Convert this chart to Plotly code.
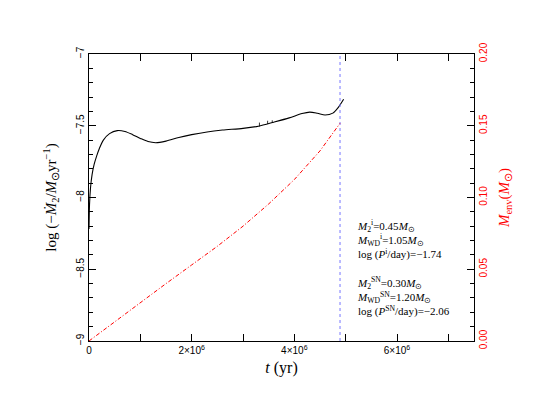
import plotly.graph_objects as go

# accretion rate curve (time in yr, log of -dM2/dt in Msun/yr)
t_mdot = [0.0, 0.01e6, 0.03e6, 0.06e6, 0.1e6, 0.15e6, 0.2e6, 0.28e6, 0.4e6, 0.55e6,
          0.7e6, 0.85e6, 1.0e6, 1.15e6, 1.3e6, 1.5e6, 1.75e6, 2.0e6, 2.3e6, 2.6e6,
          3.0e6, 3.3e6, 3.6e6, 3.9e6, 4.15e6, 4.3e6, 4.45e6, 4.6e6, 4.75e6, 4.85e6, 4.96e6]
log_mdot = [-8.22, -8.05, -7.93, -7.84, -7.77, -7.71, -7.66, -7.6, -7.555, -7.534,
            -7.54, -7.562, -7.588, -7.61, -7.618, -7.607, -7.582, -7.562, -7.543, -7.53,
            -7.518, -7.503, -7.475, -7.445, -7.415, -7.405, -7.413, -7.425, -7.412, -7.375, -7.315]

# small numerical spikes on the rate curve
t_spike = [3.32e6, 3.32e6, None, 3.48e6, 3.48e6, None, 3.57e6, 3.57e6]
y_spike = [-7.505, -7.478, None, -7.488, -7.465, None, -7.478, -7.462]

# envelope mass curve (right axis, Msun)
t_env = [0.0, 0.5e6, 1.0e6, 1.5e6, 2.0e6, 2.5e6, 3.0e6, 3.5e6, 4.0e6, 4.5e6, 4.89e6]
m_env = [0.0, 0.0135, 0.027, 0.040, 0.053, 0.066, 0.080, 0.0955, 0.1125, 0.1325, 0.1517]

t_mark = 4.89e6  # dotted vertical marker

x_ticks = [0, 2e6, 4e6, 6e6]
x_labels = ["0", "2×10<sup>6</sup>", "4×10<sup>6</sup>", "6×10<sup>6</sup>"]
y_ticks = [-9, -8.5, -8, -7.5, -7]
y_labels = ["−9", "−8.5", "−8", "−7.5", "−7"]
y2_ticks = [0.0, 0.05, 0.10, 0.15, 0.20]
y2_labels = ["0.00", "0.05", "0.10", "0.15", "0.20"]

serif = "Liberation Serif"
sans = "Liberation Sans"

fig = go.Figure()
fig.add_trace(go.Scatter(x=t_mdot, y=log_mdot, mode="lines",
                         line=dict(color="black", width=1.1, shape="spline", smoothing=0.8)))
fig.add_trace(go.Scatter(x=t_spike, y=y_spike, mode="lines",
                         line=dict(color="black", width=0.8)))
fig.add_trace(go.Scatter(x=t_env, y=m_env, mode="lines", yaxis="y2",
                         line=dict(color="red", width=1, dash="4px,2px,1px,2px")))
fig.add_trace(go.Scatter(x=[t_mark, t_mark], y=[-9, -7], mode="lines",
                         line=dict(color="#7777ff", width=1, dash="dot")))

ann_text = ("<i>M</i><sub>2</sub><sup>i</sup>=0.45<i>M</i><sub>⊙</sub><br>"
            "<i>M</i><sub>WD</sub><sup>i</sup>=1.05<i>M</i><sub>⊙</sub><br>"
            "log (<i>P</i><sup>i</sup>/day)=−1.74<br><br>"
            "<i>M</i><sub>2</sub><sup>SN</sup>=0.30<i>M</i><sub>⊙</sub><br>"
            "<i>M</i><sub>WD</sub><sup>SN</sup>=1.20<i>M</i><sub>⊙</sub><br>"
            "log (<i>P</i><sup>SN</sup>/day)=−2.06")
fig.add_annotation(x=0.69, y=0.435, xref="paper", yref="paper", xanchor="left", yanchor="top",
                   text=ann_text, showarrow=False, align="left",
                   font=dict(family=serif, size=11, color="black"))

fig.update_layout(
    width=538, height=416,
    margin=dict(l=81, r=72, t=46, b=83),
    paper_bgcolor="white", plot_bgcolor="white",
    showlegend=False,
    font=dict(color="black"),
    xaxis=dict(range=[0, 7.5e6], tickmode="array", tickvals=x_ticks, ticktext=x_labels,
               ticks="inside", ticklen=7, tickcolor="black", showline=True, linecolor="black",
               linewidth=1, mirror="allticks", showgrid=False, zeroline=False,
               minor=dict(tickmode="linear", tick0=0, dtick=1e6, ticks="inside", ticklen=4,
                          tickcolor="black", showgrid=False),
               tickfont=dict(family=sans, size=10, color="black"),
               title=dict(text="<i>t</i> (yr)", font=dict(family=serif, size=16, color="black"),
                          standoff=6)),
    yaxis=dict(range=[-9, -7], tickmode="array", tickvals=y_ticks, ticktext=y_labels,
               tickangle=-90, ticks="inside", ticklen=7, tickcolor="black", showline=True,
               linecolor="black", linewidth=1, showgrid=False, zeroline=False,
               minor=dict(tickmode="linear", tick0=-9, dtick=0.1, ticks="inside", ticklen=4,
                          tickcolor="black", showgrid=False),
               tickfont=dict(family=sans, size=10, color="black"),
               title=dict(text="log (−<i>M\u0307</i><sub>2</sub>/<i>M</i><sub>⊙</sub>yr<sup>−1</sup>)",
                          font=dict(family=serif, size=15, color="black"), standoff=14)),
    yaxis2=dict(range=[0, 0.2], overlaying="y", side="right", tickmode="array",
                tickvals=y2_ticks, ticktext=y2_labels, tickangle=-90, ticks="inside",
                ticklen=7, tickcolor="black", showline=True, linecolor="black", linewidth=1,
                showgrid=False, zeroline=False,
                minor=dict(tickmode="linear", tick0=0, dtick=0.01, ticks="inside", ticklen=4,
                           tickcolor="black", showgrid=False),
                tickfont=dict(family=sans, size=10, color="red"),
                title=dict(text="<i>M</i><sub>env</sub>(<i>M</i><sub>⊙</sub>)",
                           font=dict(family=serif, size=15, color="red"), standoff=10)),
)

fig.write_html("out.html")
